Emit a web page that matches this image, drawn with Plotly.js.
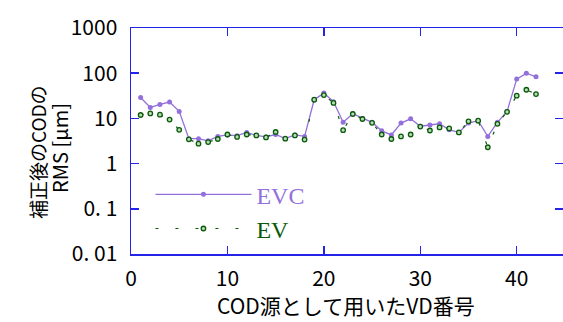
<!DOCTYPE html>
<html>
<head>
<meta charset="utf-8">
<script src="https://cdn.plot.ly/plotly-3.0.1.min.js"></script>
<style>html,body{margin:0;padding:0;background:#fff;}#chart{width:563px;height:322px;}</style>
</head>
<body>
<div id="chart"></div>
<script>
const vdNumbers = [1,2,3,4,5,6,7,8,9,10,11,12,13,14,15,16,17,18,19,20,21,22,23,24,25,26,27,28,29,30,31,32,33,34,35,36,37,38,39,40,41,42];
const evcRms = [29.1,17.5,20.4,23,14.3,3.56,3.56,3.2,4.0,4.3,4.15,4.9,4.2,3.9,4.4,3.56,4.3,4.0,25.9,36.3,23.4,8.2,12.7,10,8.2,5.3,4.3,7.9,9.8,6.7,7.1,7.6,5.6,4.9,7.9,8.9,4.0,8.2,14.3,74,100,83];
const evRms = [11.9,12.9,12.1,9.4,5.6,3.44,2.76,3.0,3.5,4.4,3.9,4.4,4.2,3.8,5.0,3.56,4.2,3.4,25.9,32.8,22,5.5,12.5,9.7,8.0,4.4,3.5,4.0,4.4,6.6,5.4,6.3,6.0,4.9,8.6,8.9,2.3,7.6,14,31.8,43,34.5];
const yTickVals = [0.01,0.1,1,10,100,1000];
const yTickText = ['0. 01','0. 1','1','10','100','1000'];
const xTickVals = [0,10,20,30,40];
const xTickText = ['0','10','20','30','40'];
const xTitle = 'COD源として用いたVD番号';
const yTitleLines = ['補正後のCODの', 'RMS [μm]'];

const purple = '#9370DB';
const green = '#0a5a0a';
const axisBlue = '#2424e8';
const jpFont = '"Noto Sans CJK JP", "DejaVu Sans", sans-serif';

const traces = [
  {
    x: vdNumbers, y: evcRms, name: '<span style="color:' + purple + '">EVC</span>',
    type: 'scatter', mode: 'lines+markers', legendgroup: 'a',
    line: {color: purple, width: 1.3},
    marker: {color: purple, size: 5, symbol: 'circle'}
  },
  {
    x: vdNumbers, y: evRms, name: '<span style="color:' + green + '">EV</span>',
    type: 'scatter', mode: 'lines+markers', legendgroup: 'b',
    line: {color: green, width: 1.2, dash: '3px,17px'},
    marker: {color: '#b8dcb8', size: 4.5, symbol: 'circle', line: {color: green, width: 1.3}}
  }
];

const axisCommon = {
  showline: true, linecolor: axisBlue, linewidth: 1.5, mirror: 'ticks',
  ticks: 'inside', ticklen: 8, tickwidth: 1.5, tickcolor: axisBlue,
  showgrid: false, zeroline: false,
  tickfont: {family: jpFont, size: 21, color: '#000'}
};

const layout = {
  width: 563, height: 322,
  margin: {l: 131, r: 0, t: 28, b: 68},
  paper_bgcolor: '#fff', plot_bgcolor: '#fff',
  showlegend: true,
  legend: {
    x: 0.045, y: 0.362, xanchor: 'left', yanchor: 'top',
    bgcolor: 'rgba(0,0,0,0)', borderwidth: 0,
    font: {family: '"Liberation Serif", "Times New Roman", serif', size: 24},
    itemwidth: 96, tracegroupgap: 0, traceorder: 'grouped'
  },
  xaxis: Object.assign({}, axisCommon, {
    range: [0, 44.8], tickvals: xTickVals, ticktext: xTickText,
    ticklabelstandoff: 5
  }),
  yaxis: Object.assign({}, axisCommon, {
    type: 'log', range: [-2, 3], tickvals: yTickVals, ticktext: yTickText,
    ticklabelstandoff: 8
  }),
  annotations: [
    {text: xTitle, xref: 'paper', yref: 'paper', x: 0.497, y: -0.296,
     xanchor: 'center', yanchor: 'bottom', showarrow: false, borderpad: 0,
     font: {family: jpFont, size: 21, color: '#000'}},
    {text: yTitleLines[0], xref: 'paper', yref: 'paper', x: -0.218, y: 0.45,
     xanchor: 'center', yanchor: 'middle', showarrow: false, textangle: -90,
     font: {family: jpFont, size: 19, color: '#000'}},
    {text: yTitleLines[1], xref: 'paper', yref: 'paper', x: -0.164, y: 0.47,
     xanchor: 'center', yanchor: 'middle', showarrow: false, textangle: -90,
     font: {family: jpFont, size: 20, color: '#000'}}
  ]
};

Plotly.newPlot('chart', traces, layout, {displayModeBar: false, staticPlot: true});
</script>
</body>
</html>
